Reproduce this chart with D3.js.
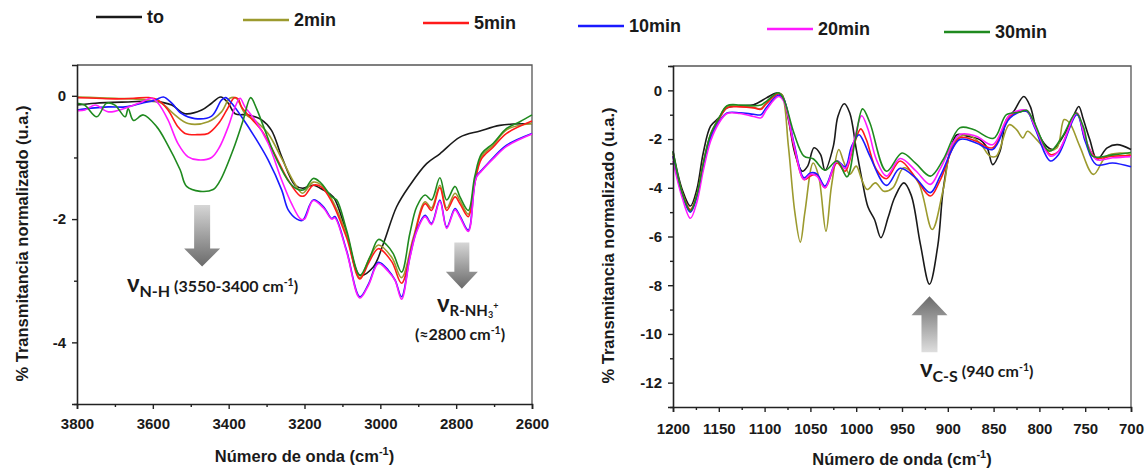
<!DOCTYPE html>
<html><head><meta charset="utf-8">
<script src="https://cdn.jsdelivr.net/npm/d3@7"></script>
<style>
body{margin:0;background:#fff;}
svg{display:block;}
text{font-family:"Liberation Sans",Arial,sans-serif;font-weight:bold;fill:#1a1a1a;}
.ann{font-family:Lato,"Open Sans",sans-serif;font-weight:bold;}
.leg{font-family:"Liberation Sans Narrow","Arial Narrow","Liberation Sans",sans-serif;font-weight:bold;font-size:18px;}
</style></head><body>
<svg id="c" width="1145" height="468"></svg>
<script>
// ---------- data ----------
const seriesNames = ["to","2min","5min","10min","20min","30min"];
const seriesColors = ["#1a1a1a","#9c9a2e","#ff1a1a","#1a1aff","#ff1aff","#1f8a1f"];

// Left panel: [wavenumber, value]
const leftTo = [[3800,-0.15],[3752,-0.12],[3665,-0.10],[3594,-0.09],[3550,-0.15],[3515,-0.29],[3471,-0.23],[3445,-0.12],[3421,-0.02],[3401,-0.12],[3383,-0.29],[3348,-0.31],[3313,-0.39],[3287,-0.56],[3260,-0.99],[3225,-1.45],[3205,-1.5],[3177,-1.45],[3150,-1.53],[3124,-1.64],[3089,-2.23],[3054,-2.91],[3019,-2.78],[2992,-2.40],[2957,-1.80],[2922,-1.45],[2878,-1.10],[2843,-0.94],[2790,-0.67],[2737,-0.57],[2685,-0.48],[2600,-0.45]];
const left2 = [[3800,-0.02],[3700,-0.04],[3611,-0.07],[3577,-0.12],[3542,-0.31],[3507,-0.45],[3454,-0.42],[3419,-0.26],[3397,-0.04],[3380,-0.04],[3357,-0.29],[3327,-0.42],[3296,-0.61],[3260,-1.02],[3225,-1.43],[3205,-1.58],[3177,-1.40],[3155,-1.45],[3128,-1.68],[3089,-2.25],[3054,-2.95],[3030,-2.65],[3005,-2.42],[2970,-2.62],[2944,-2.95],[2913,-2.30],[2882,-1.72],[2865,-1.82],[2843,-1.45],[2825,-1.82],[2803,-1.58],[2790,-1.70],[2768,-1.92],[2751,-1.38],[2733,-0.98],[2702,-0.80],[2667,-0.55],[2600,-0.45]];
const left5 = [[3800,-0.03],[3750,-0.04],[3700,-0.05],[3650,-0.04],[3611,-0.03],[3586,-0.07],[3560,-0.23],[3534,-0.50],[3515,-0.61],[3480,-0.63],[3454,-0.61],[3427,-0.45],[3405,-0.23],[3385,-0.03],[3375,-0.05],[3366,-0.18],[3340,-0.37],[3313,-0.56],[3279,-0.94],[3243,-1.37],[3212,-1.62],[3200,-1.62],[3177,-1.45],[3155,-1.48],[3128,-1.72],[3089,-2.30],[3054,-2.97],[3030,-2.70],[3005,-2.48],[2970,-2.69],[2944,-3.04],[2913,-2.34],[2882,-1.75],[2865,-1.86],[2843,-1.49],[2825,-1.86],[2803,-1.64],[2790,-1.75],[2768,-1.96],[2751,-1.42],[2733,-1.02],[2702,-0.83],[2667,-0.61],[2600,-0.41]];
const left10 = [[3800,-0.23],[3761,-0.20],[3717,-0.18],[3673,-0.18],[3629,-0.12],[3594,-0.07],[3572,-0.02],[3550,-0.12],[3524,-0.29],[3489,-0.37],[3445,-0.33],[3419,-0.07],[3408,-0.03],[3392,-0.12],[3366,-0.34],[3331,-0.67],[3296,-1.04],[3260,-1.53],[3243,-1.85],[3220,-2.00],[3205,-2.02],[3177,-1.69],[3150,-1.80],[3128,-1.99],[3120,-1.96],[3089,-2.51],[3054,-3.26],[3031,-3.05],[3005,-2.70],[2979,-2.83],[2961,-2.99],[2944,-3.26],[2922,-2.61],[2904,-2.18],[2882,-1.94],[2865,-2.07],[2843,-1.69],[2825,-2.13],[2803,-1.83],[2790,-1.95],[2768,-2.18],[2747,-1.31],[2733,-1.21],[2702,-1.00],[2667,-0.80],[2600,-0.61]];
const left20 = [[3800,-0.24],[3779,-0.23],[3752,-0.15],[3717,-0.26],[3673,-0.20],[3629,-0.10],[3603,-0.04],[3586,-0.12],[3560,-0.39],[3534,-0.77],[3507,-0.99],[3480,-1.04],[3445,-1.00],[3424,-0.83],[3401,-0.50],[3383,-0.18],[3370,-0.04],[3357,-0.18],[3331,-0.39],[3296,-0.77],[3260,-1.37],[3234,-1.75],[3210,-2.00],[3200,-2.00],[3177,-1.70],[3150,-1.82],[3128,-2.00],[3120,-1.98],[3089,-2.53],[3054,-3.28],[3031,-3.07],[3005,-2.72],[2979,-2.85],[2961,-3.00],[2944,-3.30],[2922,-2.63],[2904,-2.20],[2882,-1.96],[2865,-2.09],[2843,-1.71],[2825,-2.15],[2803,-1.85],[2790,-1.97],[2768,-2.20],[2747,-1.33],[2733,-1.22],[2702,-1.02],[2667,-0.82],[2600,-0.62]];
const left30 = [[3800,-0.12],[3780,-0.15],[3748,-0.34],[3722,-0.12],[3700,-0.15],[3673,-0.34],[3665,-0.21],[3651,-0.40],[3625,-0.31],[3590,-0.50],[3563,-0.77],[3528,-1.20],[3511,-1.47],[3475,-1.55],[3441,-1.52],[3423,-1.38],[3388,-0.87],[3362,-0.40],[3342,-0.03],[3327,-0.20],[3308,-0.50],[3273,-1.04],[3238,-1.42],[3217,-1.52],[3200,-1.52],[3177,-1.34],[3159,-1.40],[3128,-1.64],[3115,-1.69],[3089,-2.18],[3054,-2.91],[3027,-2.61],[3005,-2.33],[2983,-2.42],[2966,-2.56],[2944,-2.86],[2922,-2.23],[2904,-1.80],[2882,-1.61],[2865,-1.69],[2843,-1.33],[2825,-1.69],[2803,-1.47],[2790,-1.64],[2768,-1.86],[2751,-1.31],[2733,-0.94],[2702,-0.77],[2667,-0.53],[2632,-0.42],[2600,-0.31]];

// Right panel: [wavenumber, value]
const rightTo = [[1200,-2.5],[1190,-4.07],[1181,-4.75],[1174,-4.07],[1167,-2.57],[1159,-1.47],[1150,-1.13],[1141,-0.72],[1127,-0.63],[1112,-0.59],[1098,-0.31],[1087,-0.11],[1081,-0.18],[1074,-1.2],[1067,-2.57],[1059,-3.32],[1053,-3.11],[1046,-2.36],[1039,-2.63],[1034,-3.28],[1025,-2.3],[1020,-1.07],[1013,-0.55],[1007,-0.93],[1000,-2.4],[993,-3.8],[987,-4.8],[980,-5.3],[973,-6.05],[965,-5.2],[958,-4.4],[948,-3.8],[940,-4.3],[930,-6.3],[920,-7.96],[911,-6.4],[905,-4.07],[897,-2.43],[890,-1.82],[879,-1.88],[865,-2.02],[857,-2.36],[851,-3.05],[843,-2.5],[836,-1.2],[828,-0.86],[817,-0.25],[810,-0.66],[803,-1.61],[792,-2.3],[785,-2.43],[774,-1.88],[763,-1.07],[757,-0.66],[752,-1.2],[745,-2.02],[737,-2.84],[726,-2.36],[715,-2.23],[700,-2.43]];
const right2 = [[1200,-2.6],[1190,-4.2],[1181,-4.9],[1174,-4.3],[1167,-3.0],[1159,-1.8],[1150,-1.15],[1141,-0.65],[1127,-0.65],[1112,-0.7],[1104,-0.75],[1098,-0.5],[1085,-0.12],[1081,-0.18],[1074,-2.3],[1067,-5.0],[1061,-6.23],[1056,-5.0],[1047,-2.98],[1041,-3.52],[1033,-5.78],[1027,-3.93],[1019,-2.43],[1014,-2.9],[1007,-3.45],[1000,-3.11],[994,-3.66],[988,-4.07],[979,-3.8],[970,-4.14],[960,-4.0],[948,-3.18],[932,-3.8],[917,-5.71],[905,-4.07],[894,-2.16],[879,-1.82],[865,-2.16],[854,-2.7],[847,-2.7],[833,-1.41],[825,-1.61],[818,-1.95],[813,-1.68],[803,-2.02],[792,-2.43],[781,-2.36],[773,-1.2],[767,-1.34],[756,-2.29],[741,-3.45],[727,-2.7],[712,-2.57],[700,-2.63]];
const right5 = [[1200,-2.7],[1190,-4.2],[1181,-4.9],[1174,-4.3],[1167,-3.0],[1159,-1.85],[1150,-1.2],[1141,-0.72],[1127,-0.68],[1112,-0.72],[1104,-0.78],[1098,-0.55],[1085,-0.15],[1079,-0.38],[1068,-2.3],[1057,-3.66],[1050,-3.52],[1043,-3.45],[1034,-4.0],[1021,-2.98],[1012,-3.32],[1003,-2.3],[995,-1.58],[989,-2.02],[978,-3.25],[967,-3.63],[952,-2.9],[935,-3.6],[919,-4.34],[908,-3.66],[887,-1.95],[869,-2.09],[851,-2.36],[832,-1.06],[814,-0.86],[805,-1.47],[788,-2.63],[779,-2.5],[759,-0.93],[750,-2.02],[738,-2.77],[720,-2.7],[700,-2.68]];
const right10 = [[1200,-2.7],[1190,-4.3],[1181,-5.0],[1174,-4.4],[1167,-3.1],[1159,-1.95],[1150,-1.3],[1141,-0.93],[1127,-0.92],[1112,-0.98],[1104,-1.0],[1098,-0.7],[1085,-0.2],[1079,-0.38],[1068,-2.16],[1057,-3.59],[1050,-3.39],[1043,-3.43],[1034,-3.93],[1021,-2.9],[1012,-3.14],[1005,-2.3],[997,-1.82],[992,-2.09],[985,-2.7],[967,-3.9],[952,-3.2],[935,-3.6],[919,-4.2],[908,-3.5],[887,-2.02],[869,-2.16],[851,-2.43],[832,-1.13],[814,-0.86],[805,-1.54],[788,-2.9],[779,-2.63],[759,-1.0],[750,-2.09],[738,-3.05],[720,-2.98],[700,-3.14]];
const right20 = [[1200,-2.9],[1190,-4.4],[1181,-5.25],[1174,-4.6],[1167,-3.3],[1159,-2.09],[1150,-1.35],[1141,-0.95],[1127,-0.95],[1112,-1.07],[1104,-1.13],[1098,-0.8],[1085,-0.25],[1079,-0.45],[1068,-2.23],[1057,-3.66],[1050,-3.45],[1043,-3.52],[1034,-4.0],[1021,-2.9],[1012,-3.22],[1003,-2.16],[994,-1.04],[987,-1.61],[978,-2.84],[967,-3.52],[952,-2.8],[935,-3.3],[919,-3.86],[908,-3.2],[887,-1.82],[869,-1.88],[851,-2.23],[832,-1.0],[814,-0.82],[805,-1.47],[788,-2.7],[779,-2.5],[759,-0.93],[750,-1.95],[738,-2.84],[720,-2.77],[700,-2.72]];
const right30 = [[1200,-2.5],[1190,-4.2],[1181,-4.95],[1174,-4.3],[1167,-3.0],[1159,-1.8],[1150,-1.15],[1141,-0.63],[1127,-0.6],[1112,-0.63],[1104,-0.6],[1098,-0.45],[1085,-0.1],[1079,-0.38],[1068,-1.75],[1057,-2.7],[1047,-2.81],[1034,-3.28],[1021,-2.9],[1010,-3.55],[1001,-2.02],[993,-0.76],[985,-1.34],[967,-3.32],[950,-2.57],[935,-3.0],[919,-3.52],[905,-2.84],[887,-1.54],[872,-1.61],[850,-1.97],[836,-1.0],[822,-0.9],[814,-0.82],[807,-1.2],[789,-2.5],[775,-1.9],[760,-0.93],[752,-1.5],[742,-2.7],[720,-2.65],[700,-2.55]];

const leftSeries = [leftTo,left2,left5,left10,left20,left30];
const rightSeries = [rightTo,right2,right5,right10,right20,right30];

const leftXTicks = [3800,3600,3400,3200,3000,2800,2600];
const leftXMinor = [3700,3500,3300,3100,2900,2700];
const leftYTicks = [0,-2,-4];
const leftYMinor = [-1,-3,-5];
const rightXTicks = [1200,1150,1100,1050,1000,950,900,850,800,750,700];
const rightXMinor = [1175,1125,1075,1025,975,925,875,825,775,725];
const rightYTicks = [0,-2,-4,-6,-8,-10,-12];
const rightYMinor = [1,-1,-3,-5,-7,-9,-11,-13];

const yTitle = "% Transmitancia normalizado (u.a.)";

// ---------- drawing ----------
const svg = d3.select("#c");
svg.append("rect").attr("width",1145).attr("height",468).attr("fill","#fff");
const defs = svg.append("defs");
function grad(id, top, bottom){
  const g = defs.append("linearGradient").attr("id",id).attr("x1",0).attr("y1",0).attr("x2",0).attr("y2",1);
  g.append("stop").attr("offset","0%").attr("stop-color",top);
  g.append("stop").attr("offset","100%").attr("stop-color",bottom);
}
grad("gDown","#d6d6d6","#6a6a6a");
grad("gUp","#6a6a6a","#dedede");

const fmt = d => String(d);

function panel(cfg){
  const x = d3.scaleLinear().domain(cfg.xd).range([cfg.x0,cfg.x1]);
  const y = d3.scaleLinear().domain(cfg.yd).range([cfg.y1,cfg.y0]);
  const g = svg.append("g");
  g.append("path").attr("d",`M${cfg.x0},${cfg.y0}H${cfg.x1}V${cfg.y1}`).attr("fill","none").attr("stroke","#555").attr("stroke-width",1.3);
  const line = d3.line().x(d=>x(d[0])).y(d=>y(d[1])).curve(d3.curveCatmullRom.alpha(0.5));
  cfg.series.forEach((s,i)=>{
    g.append("path").datum(s).attr("d",line).attr("fill","none").attr("stroke",seriesColors[i]).attr("stroke-width",1.6).attr("stroke-linejoin","round");
  });
  g.append("g").attr("transform",`translate(0,${cfg.y1})`).call(d3.axisBottom(x).tickValues(cfg.xt).tickFormat(fmt).tickSize(5).tickPadding(cfg.xpad));
  g.append("g").attr("transform",`translate(0,${cfg.y1})`).call(d3.axisBottom(x).tickValues(cfg.xm).tickFormat("").tickSize(3)).select(".domain").remove();
  g.append("g").attr("transform",`translate(${cfg.x0},0)`).call(d3.axisLeft(y).tickValues(cfg.yt).tickFormat(fmt).tickSize(5).tickPadding(6));
  g.append("g").attr("transform",`translate(${cfg.x0},0)`).call(d3.axisLeft(y).tickValues(cfg.ym).tickFormat("").tickSize(3)).select(".domain").remove();
  g.selectAll(".domain").attr("stroke","#222").attr("stroke-width",1.6);
  g.selectAll(".tick line").attr("stroke","#222").attr("stroke-width",1.4);
  g.selectAll(".tick text").attr("font-size",15).attr("font-family","Liberation Sans, Arial, sans-serif").attr("font-weight","bold").attr("fill","#1a1a1a");
  g.append("text").attr("transform",`translate(${cfg.ytx},${(cfg.y0+cfg.y1)/2+9}) rotate(-90)`).attr("text-anchor","middle").attr("font-size",16.5).text(yTitle);
  const xt = g.append("text").attr("x",(cfg.x0+cfg.x1)/2).attr("y",cfg.xty).attr("text-anchor","middle").attr("font-size",16.5);
  xt.append("tspan").text("Número de onda (cm");
  xt.append("tspan").attr("dy",-7).attr("font-size",11).text("-1");
  xt.append("tspan").attr("dy",7).text(")");
  return {x,y,g};
}

const L = panel({xd:[3800,2600],yd:[-5,0.5],x0:77,x1:532,y0:65,y1:404,series:leftSeries,xt:leftXTicks,xm:leftXMinor,yt:leftYTicks,ym:leftYMinor,ytx:28,xty:462,xpad:9});
const R = panel({xd:[1200,700],yd:[-13,1],x0:673,x1:1131,y0:66,y1:407,series:rightSeries,xt:rightXTicks,xm:rightXMinor,yt:rightYTicks,ym:rightYMinor,ytx:614,xty:465,xpad:11});

function downArrow(sc, wx, vTop, vTip, shaftW, headW, headH, fill){
  const cx = sc.x(wx), t = sc.y(vTop), tip = sc.y(vTip), hb = tip-headH;
  svg.append("path").attr("d",`M${cx-shaftW/2},${t}H${cx+shaftW/2}V${hb}H${cx+headW/2}L${cx},${tip}L${cx-headW/2},${hb}H${cx-shaftW/2}Z`).attr("fill",fill);
}
function upArrow(sc, wx, vTip, vBot, shaftW, headW, headH, fill){
  const cx = sc.x(wx), tip = sc.y(vTip), b = sc.y(vBot), hb = tip+headH;
  svg.append("path").attr("d",`M${cx},${tip}L${cx+headW/2},${hb}H${cx+shaftW/2}V${b}H${cx-shaftW/2}V${hb}H${cx-headW/2}Z`).attr("fill",fill);
}
downArrow(L, 3470, -1.77, -2.77, 16, 36, 18, "url(#gDown)");
downArrow(L, 2785, -2.38, -3.13, 15, 32, 17, "url(#gDown)");
upArrow(R, 920, -8.45, -10.75, 16, 36, 19, "url(#gUp)");

// νN-H (3550-3400 cm-1)
{
  const t = svg.append("text").attr("class","ann").attr("x",127).attr("y",292);
  t.append("tspan").attr("font-size",24).text("ν");
  t.append("tspan").attr("font-size",16).attr("dy",5).text("N-H");
  t.append("tspan").attr("font-size",16).attr("dy",-5).text(" (3550-3400 cm");
  t.append("tspan").attr("font-size",10.5).attr("dy",-6).text("-1");
  t.append("tspan").attr("font-size",16).attr("dy",6).text(")");
}
// νR-NH3+ (single label, subscripts kept tight to the baseline)
{
  const t = svg.append("text").attr("class","ann").attr("x",437).attr("y",312);
  t.append("tspan").attr("font-size",24).text("ν");
  t.append("tspan").attr("font-size",15).attr("dy",4).text("R-NH");
  t.append("tspan").attr("font-size",9).attr("dy",2).text("3");
  t.append("tspan").attr("font-size",9).attr("dy",-9).text("+");
  const t2 = svg.append("text").attr("class","ann").attr("x",460).attr("y",340).attr("text-anchor","middle");
  t2.append("tspan").attr("font-size",16).text("(≈2800 cm");
  t2.append("tspan").attr("font-size",10.5).attr("dy",-6).text("-1");
  t2.append("tspan").attr("font-size",16).attr("dy",6).text(")");
}
// νC-S (940 cm-1)
{
  const t = svg.append("text").attr("class","ann").attr("x",920).attr("y",377);
  t.append("tspan").attr("font-size",24).text("ν");
  t.append("tspan").attr("font-size",16).attr("dy",5).text("C-S");
  t.append("tspan").attr("font-size",16).attr("dy",-5).text(" (940 cm");
  t.append("tspan").attr("font-size",10.5).attr("dy",-6).text("-1");
  t.append("tspan").attr("font-size",16).attr("dy",6).text(")");
}

// legend
const legX = [96,243,423,578,767,944];
const legY = [17,20,23,26,29,32];
seriesNames.forEach((n,i)=>{
  svg.append("line").attr("x1",legX[i]).attr("x2",legX[i]+46).attr("y1",legY[i]).attr("y2",legY[i]).attr("stroke",seriesColors[i]).attr("stroke-width",2.5);
  svg.append("text").attr("class","leg").attr("x",legX[i]+51).attr("y",legY[i]+6).text(n);
});
</script>
</body></html>
